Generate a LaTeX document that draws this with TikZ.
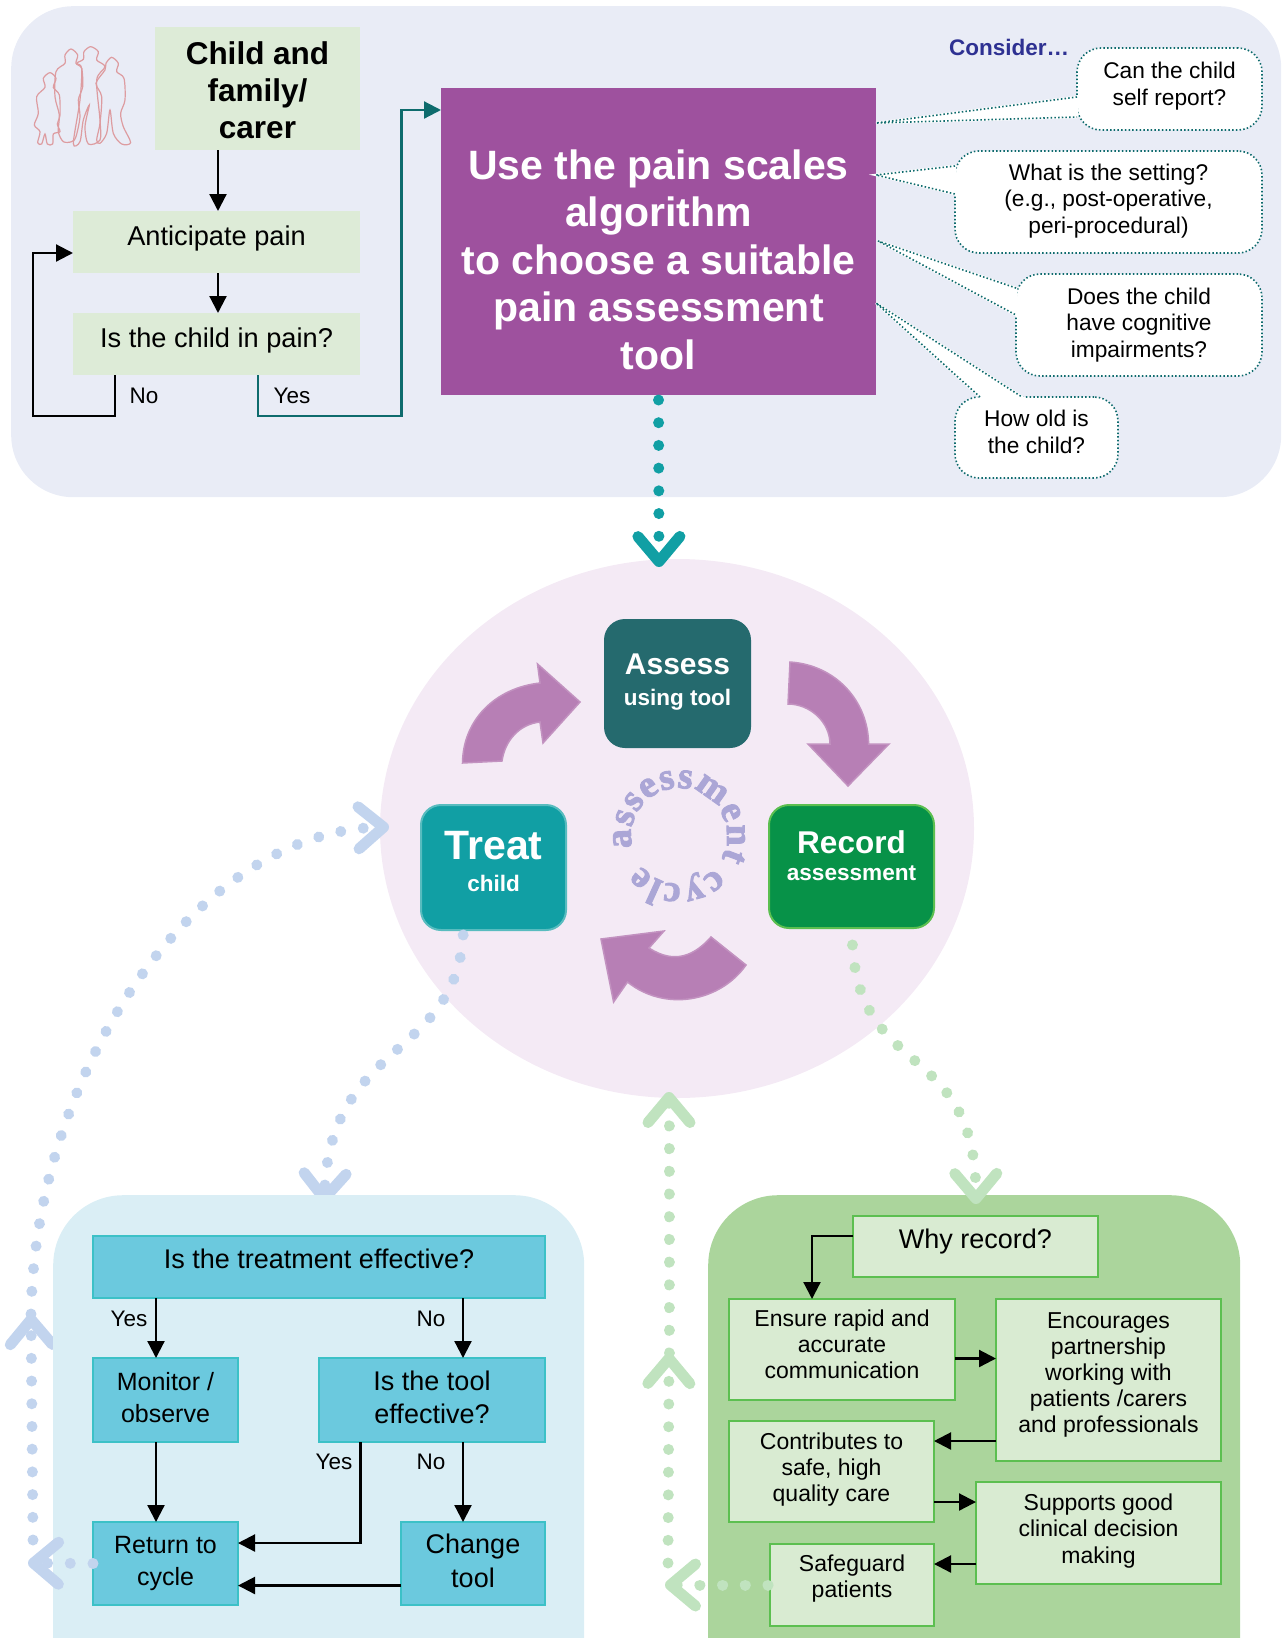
\documentclass[tikz,border=0pt]{standalone}
\usepackage{fontspec}
\setmainfont{Liberation Sans}
\newfontfamily\ringfont[BoldFeatures={FakeBold=2.4}]{Liberation Serif}
\usetikzlibrary{arrows.meta,shapes.geometric,decorations.text}
\newcommand{\fs}[2]{\fontsize{#1}{#2}\selectfont}
\definecolor{toppanel}{HTML}{E9ECF6}
\definecolor{softgreen}{HTML}{DDEBD7}
\definecolor{tealline}{HTML}{0E6B6D}
\definecolor{purplebox}{HTML}{9E519E}
\definecolor{ringfill}{HTML}{F4EAF5}
\definecolor{cyclearrowfill}{HTML}{B77FB5}
\definecolor{bluepanel}{HTML}{DAEEF5}
\definecolor{greenpanel}{HTML}{ABD59C}
\definecolor{bluebox}{HTML}{6BC9DE}
\definecolor{blueedge}{HTML}{3CC1C7}
\definecolor{greenbox}{HTML}{D9EBD2}
\definecolor{greenedge}{HTML}{5CBF50}
\definecolor{dotteal}{HTML}{119FA4}
\definecolor{dotblue}{HTML}{C2D4EE}
\definecolor{dotgreen}{HTML}{C0E3BF}
\definecolor{peopleline}{HTML}{DD9CA0}
\definecolor{assessfill}{HTML}{256A6E}
\definecolor{recordfill}{HTML}{079248}
\definecolor{considertext}{HTML}{2E3192}
\begin{document}
\begin{tikzpicture}[x=1pt,y=-1pt,
    panel/.style={anchor=north west, inner sep=0pt, rounded corners=#1},
    sz/.style n args={3}{minimum width=#1pt, text height=#2pt, text depth=#3pt},
    tbox/.style={anchor=north west, inner xsep=0pt, inner ysep=0pt, outer sep=0pt, align=center},
    softbox/.style={tbox, fill=softgreen, font=\fs{27.2}{37}},
    cueline/.style={tealline, line width=1.6pt, dash pattern=on 1.5pt off 2.2pt},
    cue/.style={tbox, draw=tealline, fill=white, line width=1.6pt, dash pattern=on 1.5pt off 2.2pt, rounded corners=24pt, font=\fs{22.7}{26.5}},
    cuetail/.style={fill=white, draw=white, line width=2.5pt},
    cycbox/.style={tbox, rounded corners=20pt, text=white, line width=2pt},
    bflow/.style={tbox, fill=bluebox, draw=blueedge, line width=2.4pt, font=\fs{27}{33}},
    gflow/.style={tbox, fill=greenbox, draw=greenedge, line width=2.4pt, font=\fs{23}{25.7}},
    arr/.style={-{Triangle[length=17pt,width=17pt]}, line width=2.2pt},
    cyclearrow/.style={fill=cyclearrowfill, draw=cyclearrowfill!85!white, line width=1.5pt},
    dotlink/.style={line width=11pt, line cap=round, dash pattern=on 0.01pt off 22.7pt, shorten <=#1},
    dotlink/.default=0pt,
    tipend/.style={-{Straight Barb[length=#1pt,width=42pt,line width=11pt,round]}},
    tipend/.default=25,
    people/.style={draw=peopleline, line width=1.2pt},
    lbl/.style={anchor=base, font=\fs{22.5}{26}}]
    \clip (0,0) rectangle (1284,1638);

    % Top panel and pain circle
    \node (top) [panel=62pt, fill=toppanel, minimum width=1270pt, minimum height=491pt] at (11,6) {};
    \node (ring) [ellipse, inner sep=0pt, fill=ringfill, minimum width=594pt, minimum height=539pt] at (677,828.5) {};

    % People
    \begin{scope}[x=0.3333pt,y=-0.3333pt]
        \draw[people] plot[smooth cycle] coordinates {(150,218) (168,235) (160,262) (178,285) (180,345) (172,372) (180,395) (160,402) (158,432) (142,432) (135,402) (125,432) (113,428) (120,395) (103,375) (115,340) (110,290) (135,262) (130,235)};
        \draw[people] plot[smooth cycle] coordinates {(213,147) (233,165) (228,190) (245,205) (248,260) (235,300) (240,350) (228,410) (215,425) (190,425) (175,395) (178,345) (165,290) (168,215) (195,190) (195,165)};
        \draw[people] plot[smooth cycle] coordinates {(272,140) (295,155) (290,180) (315,200) (290,240) (300,360) (300,420) (265,432) (255,380) (268,315) (250,360) (240,425) (220,430) (240,300) (245,205) (230,190) (250,178) (252,155)};
        \draw[people] plot[smooth cycle] coordinates {(335,172) (355,190) (350,215) (372,235) (375,300) (362,340) (370,380) (392,428) (365,432) (340,400) (330,330) (320,400) (300,430) (290,420) (300,370) (305,290) (288,250) (315,210) (318,190)};
    \end{scope}

    % Nodes, top flow
    \node (child) [softbox, sz={205}{111}{12}, font=\bfseries\fs{31.5}{36.8}] at (155,27) {Child and\\family/\\carer};
    \node (anticipate) [softbox, sz={287}{34}{28}] at (73,211) {Anticipate pain};
    \node (inpain) [softbox, sz={287}{34}{28}] at (73,313) {Is the child in pain?};
    \node (scales) [tbox, fill=purplebox, text=white, sz={435}{281}{26}, font=\bfseries\fs{41}{47.5}] at (441,88) {Use the pain scales\\algorithm\\to choose a suitable\\pain assessment\\tool};
    \node (consider) [anchor=base west, inner sep=0pt, text=considertext, font=\bfseries\fs{22.5}{26}] at (949,55) {Consider…};

    % Tails of the questions
    \coordinate (sa) at (876,123);
    \coordinate (sb) at (876,175);
    \coordinate (sc) at (878,241);
    \coordinate (sd) at (876,303);
    \foreach \tailname/\ax/\ay/\bx/\by in {sa/1077/97/1077/117, sb/955/166/955/194, sc/1016/288/1016/315, sd/980/397/1022/397} {
        \coordinate (\tailname 1) at (\ax,\ay);
        \coordinate (\tailname 2) at (\bx,\by);
    }

    % Questions
    \node (qself) [cue, sz={185}{57}{25}] at (1077,48) {Can the child\\self report?};
    \node (qsetting) [cue, sz={307}{82}{20}] at (955,151) {What is the setting?\\(e.g., post-operative,\\peri-procedural)};
    \node (qcog) [cue, sz={246}{83}{19}] at (1016,274) {Does the child\\have cognitive\\impairments?};
    \node (qage) [cue, sz={163}{56}{25}] at (955,397) {How old is\\the child?};
    \foreach \t in {sa,sb,sc,sd} {
        \fill[cuetail] (\t) -- (\t 1) -- (\t 2) -- cycle;
        \draw[cueline] (\t 1) -- (\t) -- (\t 2);
    }

    % Edges, top flow
    \coordinate (xa) at (218,0);
    \coordinate (noa) at (115,416);
    \coordinate (nob) at (33,253);
    \coordinate (yesa) at (258,416);
    \coordinate (yesb) at (401.5,110);
    \draw[arr] (child.south -| xa) -- (anticipate.north -| xa);
    \draw[arr] (anticipate.south -| xa) -- (inpain.north -| xa);
    \draw[arr] (inpain.south -| noa) -- (noa) -| (nob) -- (anticipate.west |- nob);
    \draw[arr, tealline] (inpain.south -| yesa) -- (yesa) -| (yesb) -- (scales.west |- yesb);
    \node (lno) [lbl] at (144,403) {No};
    \node (lyes) [lbl] at (292,403) {Yes};

    % Cycle boxes
    \node (assess) [cycbox, fill=assessfill, draw=assessfill, sz={145}{85}{42}, font=\bfseries\fs{22.5}{31}] at (605,620) {{\fs{30}{33}Assess}\\using tool};
    \node (treat) [cycbox, fill=dotteal, draw=dotteal!70!white, sz={145}{86}{39}, font=\bfseries\fs{22.5}{32}] at (421,805) {{\fs{41}{40}Treat}\\child};
    \node (record) [cycbox, fill=recordfill, draw=greenedge, sz={165}{75}{48}, font=\bfseries\fs{22.6}{27}] at (769,805) {{\fs{31.5}{32}Record}\\assessment};

    % Dotted links under the bottom panels
    \coordinate (tealtip) at (659,567);
    \coordinate (bluetip) at (324,1204);
    \coordinate (bluemid) at (31,1314);
    \coordinate (bluelow) at (33,1540);
    \coordinate (ringin) at (389,827);
    \coordinate (greenlow) at (668,1563);
    \coordinate (greenmid) at (669,1353);
    \coordinate (greentop) at (669,1092);
    \draw[dotlink=5pt, dotteal, tipend] (scales.south) -- (tealtip);
    \draw[dotlink=5pt, dotblue, tipend] ([xshift=-30pt]treat.south) .. controls (455,1060) and (330,1040) .. (bluetip);
    \draw[dotlink, dotblue, tipend] (bluelow) -- (bluemid);
    \draw[dotlink, dotblue, tipend] (bluemid) .. controls (35,1070) and (195,832) .. (ringin);
    \draw[dotlink, dotgreen, tipend] (greenlow) -- (greenmid);
    \draw[dotlink, dotgreen, tipend] (greenmid) -- (greentop);

    % Bottom panels
    \node (bpanel) [panel=70pt, fill=bluepanel, minimum width=531pt, minimum height=520pt] at (53,1195) {};
    \node (gpanel) [panel=70pt, fill=greenpanel, minimum width=532pt, minimum height=520pt] at (708,1195) {};

    % Cycle arrows
    \draw[cyclearrow] (462.5,763) -- (502,761) .. controls (505,740) and (520,724) .. (540,722) -- (543,743) -- (580,702) -- (537.5,664) -- (540,683) .. controls (495,688) and (463,720) .. (462.5,763) -- cycle;
    \draw[cyclearrow] (790,662) .. controls (835,665) and (868,700) .. (868.6,744) -- (889,744) -- (848,786) -- (808,744) -- (830,744) .. controls (830,722) and (810,704) .. (788,704) -- cycle;
    \draw[cyclearrow] (746,965) .. controls (720,1002) and (665,1012) .. (627.5,982) -- (613.6,1002) -- (601,939) -- (664,931) -- (649,948) .. controls (675,965) and (695,955) .. (711,937) -- cycle;

    % Ring text
    \coordinate (ringc) at (679,836);
    \path[decorate, decoration={text along path, text align={fit to path}, text={|\ringfont\bfseries\fs{38}{38}\color[HTML]{ABA6D6}|assessment cycle}}] (ringc) ++(194:48pt) arc[start angle=194, end angle=-142, radius=48pt];

    % Nodes, treatment flow
    \node (effective) [bflow, sz={452}{32}{30}] at (93,1236) {Is the treatment effective?};
    \node (monitor) [bflow, sz={145}{64}{20}, font=\fs{25}{32}] at (93,1358) {Monitor /\\observe};
    \node (tooleff) [bflow, sz={226}{65}{19}] at (319,1358) {Is the tool\\effective?};
    \node (return) [bflow, sz={145}{63}{20}, font=\fs{25}{32}] at (93,1522) {Return to\\cycle};
    \node (change) [bflow, sz={144}{65}{18}, font=\fs{27}{34}] at (401,1522) {Change\\tool};

    % Edges, treatment flow
    \coordinate (xb) at (156,0);
    \coordinate (xc) at (463,0);
    \coordinate (yesc) at (360.5,1543);
    \draw[arr] (effective.south -| xb) -- (monitor.north -| xb);
    \draw[arr] (effective.south -| xc) -- (tooleff.north -| xc);
    \draw[arr] (monitor.south -| xb) -- (return.north -| xb);
    \draw[arr] (tooleff.south -| xc) -- (change.north -| xc);
    \draw[arr] (tooleff.south -| yesc) -- (yesc) -- (return.east |- yesc);
    \draw[arr] ([yshift=-22pt]change.west) -- ([yshift=-22pt]return.east);
    \foreach \nm/\x/\y/\t in {lyesa/129/1326/Yes, lnoa/431/1326/No, lyesb/334/1469/Yes, lnob/431/1469/No} {
        \node (\nm) [lbl] at (\x,\y) {\t};
    }

    % Nodes, record flow
    \node (why) [gflow, sz={245}{32}{29}, font=\fs{27}{30}] at (853,1216) {Why record?};
    \node (ensure) [gflow, sz={226}{79}{22}] at (729,1299) {Ensure rapid and\\accurate\\communication};
    \node (encourage) [gflow, sz={225}{133}{29}, font=\fs{23}{26}] at (996,1299) {Encourages\\partnership\\working with\\patients /carers\\and professionals};
    \node (contrib) [gflow, sz={205}{80}{21}] at (729,1421) {Contributes to\\safe, high\\quality care};
    \node (supports) [gflow, sz={245}{81}{21}, font=\fs{23}{26.5}] at (976,1482) {Supports good\\clinical decision\\making};
    \node (safeguard) [gflow, sz={164}{53}{29}] at (770,1544) {Safeguard\\patients};

    % Edges, record flow
    \coordinate (whyin) at (812,1236);
    \draw[arr] (why.west |- whyin) -- (whyin) -- (ensure.north -| whyin);
    \draw[arr] ([yshift=-9pt]ensure.east) -- ([yshift=-9pt]ensure.east -| encourage.west);
    \draw[arr] (encourage.west |- 0,1441) -- (contrib.east |- 0,1441);
    \draw[arr] (contrib.east |- 0,1502) -- (supports.west |- 0,1502);
    \draw[arr] (supports.west |- 0,1564) -- (safeguard.east |- 0,1564);

    % Dotted links over the panels
    \coordinate (blueleft) at (28,1563);
    \coordinate (greenleft) at (665,1585);
    \coordinate (greentip) at (976,1204);
    \draw[dotlink, dotblue, tipend] (return.west) -- (blueleft);
    \draw[dotlink=2pt, dotgreen, tipend] (safeguard.west) -- (greenleft);
    \draw[dotlink=17pt, dotgreen, tipend] (record.south) .. controls (860,1080) and (975,1040) .. (greentip);
\end{tikzpicture}
\end{document}
